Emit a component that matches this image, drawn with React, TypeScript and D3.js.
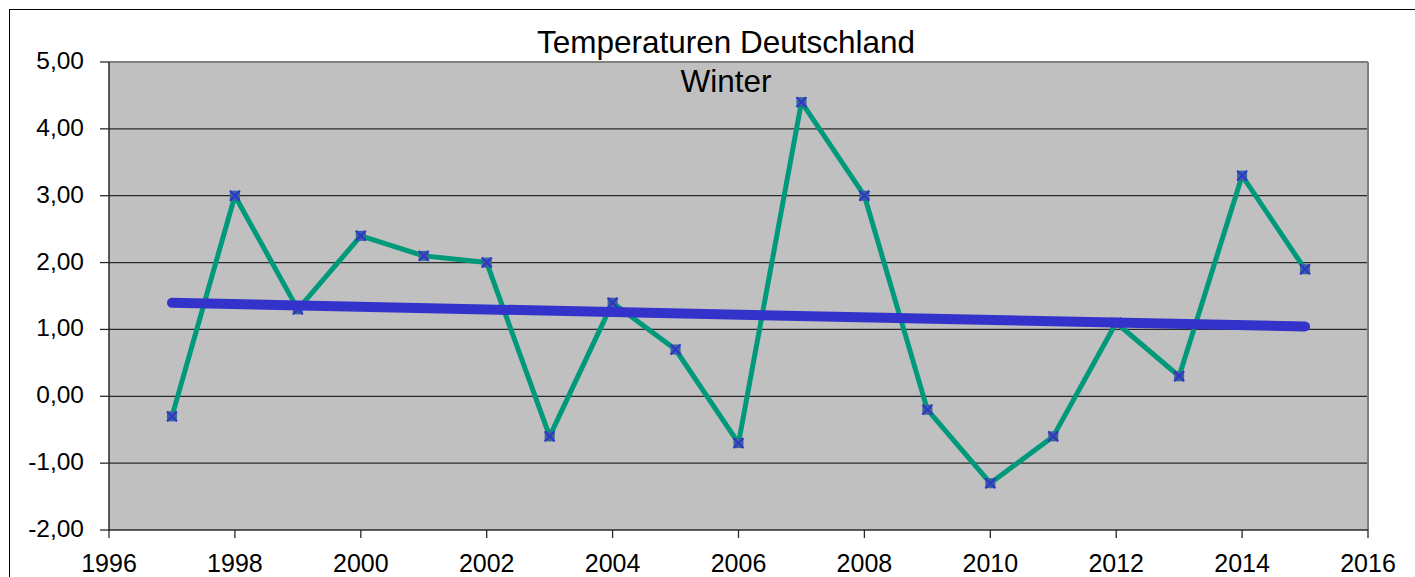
import * as d3 from "d3";
import React from "react";

const years = [1997, 1998, 1999, 2000, 2001, 2002, 2003, 2004, 2005, 2006, 2007, 2008, 2009, 2010, 2011, 2012, 2013, 2014, 2015];
const temps = [-0.3, 3.0, 1.3, 2.4, 2.1, 2.0, -0.6, 1.4, 0.7, -0.7, 4.4, 3.0, -0.2, -1.3, -0.6, 1.1, 0.3, 3.3, 1.9];
const xTicks = [1996, 1998, 2000, 2002, 2004, 2006, 2008, 2010, 2012, 2014, 2016];
const yTicks = [-2, -1, 0, 1, 2, 3, 4, 5];
const titleLines = ["Temperaturen Deutschland", "Winter"];

const W = 1415, H = 577;
const plot = { left: 109, top: 62, right: 1368, bottom: 530 };
const font = "'Liberation Sans', Arial, sans-serif";

const App = () => {
	const x = d3.scaleLinear().domain([1996, 2016]).range([plot.left, plot.right]);
	const y = d3.scaleLinear().domain([-2, 5]).range([plot.bottom, plot.top]);

	const pts = years.map((yr, i) => [yr, temps[i]] as [number, number]);
	const line = d3.line<[number, number]>().x((d) => x(d[0])).y((d) => y(d[1]));

	// linear trend like Excel
	const mx = d3.mean(years)!, my = d3.mean(temps)!;
	const slope = d3.sum(years, (v, i) => (v - mx) * (temps[i] - my)) / d3.sum(years, (v) => (v - mx) ** 2);
	const trend = (v: number) => my + slope * (v - mx);
	const x0 = years[0], x1 = years[years.length - 1];

	const fmt = (v: number) => v.toFixed(2).replace(".", ",");

	return (
		<svg width={W} height={H} style={{ position: "absolute", left: 0, top: 0, background: "#fff" }}>
			<rect x={9.5} y={9.5} width={W + 10} height={H + 10} fill="#fff" stroke="#000" strokeWidth={1} />
			<rect x={plot.left} y={plot.top} width={plot.right - plot.left} height={plot.bottom - plot.top} fill="#c0c0c0" />
			{yTicks.slice(1, -1).map((t) => (
				<line key={t} x1={plot.left} x2={plot.right} y1={y(t)} y2={y(t)} stroke="#2a2a2a" strokeWidth={1.3} />
			))}
			<line x1={plot.left} x2={plot.right} y1={plot.top} y2={plot.top} stroke="#808080" strokeWidth={2} />
			<line x1={plot.right} x2={plot.right} y1={plot.top} y2={plot.bottom} stroke="#808080" strokeWidth={2} />
			<line x1={plot.left} x2={plot.left} y1={plot.top} y2={plot.bottom + 1} stroke="#2a2a2a" strokeWidth={1.5} />
			<line x1={plot.left} x2={plot.right} y1={plot.bottom} y2={plot.bottom} stroke="#2a2a2a" strokeWidth={1.5} />
			{yTicks.map((t) => (
				<g key={t}>
					<line x1={plot.left - 9} x2={plot.left} y1={y(t)} y2={y(t)} stroke="#2a2a2a" strokeWidth={1.3} />
					<text x={84} y={y(t) + 7} textAnchor="end" fontFamily={font} fontSize={24.5}>{fmt(t)}</text>
				</g>
			))}
			{xTicks.map((t) => (
				<g key={t}>
					<line x1={x(t)} x2={x(t)} y1={plot.bottom} y2={plot.bottom + 8} stroke="#2a2a2a" strokeWidth={1.3} />
					<text x={x(t)} y={plot.bottom + 42} textAnchor="middle" fontFamily={font} fontSize={25}>{t}</text>
				</g>
			))}
			<path d={line(pts)!} fill="none" stroke="#00997a" strokeWidth={5} strokeLinejoin="round" />
			{pts.map((p) => {
				const cx = x(p[0]), cy = y(p[1]);
				return (
					<g key={p[0]}>
						<rect x={cx - 5} y={cy - 5} width={10} height={10} fill="#336699" />
						<path d={`M${cx - 5},${cy - 5}L${cx + 5},${cy + 5}M${cx - 5},${cy + 5}L${cx + 5},${cy - 5}`} stroke="#3333cc" strokeWidth={2} />
					</g>
				);
			})}
			<line x1={x(x0)} x2={x(x1)} y1={y(trend(x0))} y2={y(trend(x1))} stroke="#3333cc" strokeWidth={10} strokeLinecap="round" />
			{titleLines.map((t, i) => (
				<text key={t} x={726} y={53 + i * 39} textAnchor="middle" fontFamily={font} fontSize={31.5}>{t}</text>
			))}
		</svg>
	);
};

export default App;
